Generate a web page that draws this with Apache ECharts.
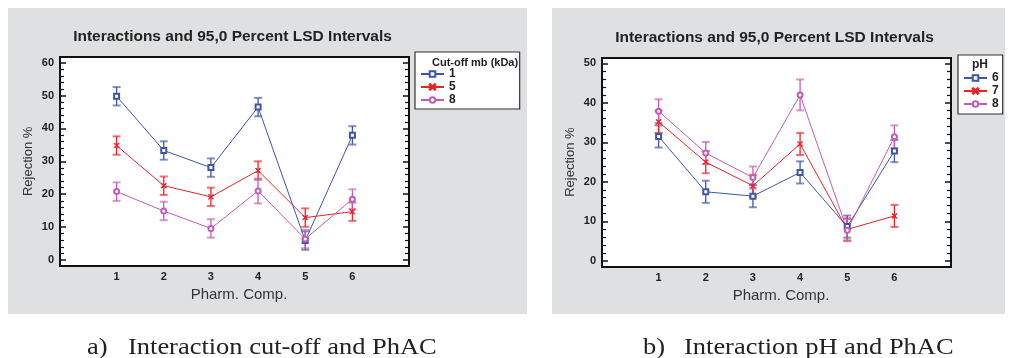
<!DOCTYPE html>
<html>
<head>
<meta charset="utf-8">
<script src="https://cdn.jsdelivr.net/npm/echarts@6/dist/echarts.min.js"></script>
<style>
  html, body { margin: 0; padding: 0; background: #fff; }
  #chart { width: 1010px; height: 358px; }
</style>
</head>
<body>
<div id="chart"></div>
<script>
// pharmaceutical compounds (x categories)
const comps = [1, 2, 3, 4, 5, 6]
const yMaxA = 60
const yMaxB = 50

// a) cut-off mb (kDa) 1 / 5 / 8
const cut1 = [49.8, 33.3, 28.1, 46.5, 5.9, 37.9]
const cut5 = [34.8, 22.6, 19.2, 27.2, 12.9, 14.7]
const cut8 = [20.8, 14.9, 9.6, 21.0, 6.4, 18.5]
const cut1Err = [2.8, 2.8, 2.8, 2.8, 2.8, 2.8]
const cut5Err = [2.8, 2.8, 2.8, 2.8, 2.8, 2.8]
const cut8Err = [2.8, 2.8, 2.8, 3.8, 2.8, 3.0]

// b) pH 6 / 7 / 8
const ph6 = [31.5, 17.5, 16.4, 22.4, 8.7, 27.8]
const ph7 = [35.2, 25.0, 19.0, 29.6, 8.0, 11.4]
const ph8 = [37.9, 27.3, 21.1, 42.0, 7.8, 31.4]
const ph6Err = [2.8, 2.8, 2.8, 2.8, 2.8, 2.8]
const ph7Err = [2.8, 2.8, 2.8, 2.8, 2.8, 2.8]
const ph8Err = [3.0, 2.8, 2.8, 3.9, 2.8, 2.9]

const BLUE = '#3d56a9'
const RED = '#ec2228'
const MAG = '#c45cb6'
const FONT = '"Liberation Sans", Arial, sans-serif'
const SERIF = '"Liberation Serif", "Times New Roman", serif'
const CROSS = 'path://M0,1L1,0L5,4L9,0L10,1L6,5L10,9L9,10L5,6L1,10L0,9L4,5Z'

// left axis with labels + mirrored right axis, major every 10, minor every 2
const yAxesFor = (gridIndex, max) => {
  const base = {
    type: 'value', gridIndex, min: 0, max, interval: 10,
    splitLine: { show: false }, axisLine: { show: false, onZero: false },
    axisTick: { show: true, inside: true, length: 6, lineStyle: { color: '#111', width: 1.5 } },
    minorTick: { show: true, splitNumber: 5, length: 4, lineStyle: { color: '#111', width: 1.2 } },
    minorSplitLine: { show: false }
  }
  return [
    {
      ...base, position: 'left',
      name: 'Rejection %', nameLocation: 'middle', nameGap: 25,
      nameTextStyle: { fontFamily: FONT, fontSize: 13, color: '#333' },
      axisLabel: { show: true, margin: 6, fontFamily: FONT, fontSize: 11, fontWeight: 'bold', color: '#222' }
    },
    { ...base, position: 'right', axisLabel: { show: false } }
  ]
}

const xAxisFor = (gridIndex) => ({
  type: 'value', gridIndex, min: -0.2, max: 7.2,
  name: 'Pharm. Comp.', nameLocation: 'middle', nameGap: 25,
  nameTextStyle: { fontFamily: FONT, fontSize: 15, color: '#333', padding: [0, 0, 0, 9] },
  axisLine: { show: false, onZero: false },
  axisTick: { show: false },
  splitLine: { show: false },
  axisLabel: { customValues: comps, margin: 11, fontFamily: FONT, fontSize: 11, fontWeight: 'bold', color: '#222' }
})

const lineSeries = (name, vals, color, symbol, size, xi, yi) => ({
  name, type: 'line', xAxisIndex: xi, yAxisIndex: yi,
  data: comps.map((c, i) => [c, vals[i]]),
  symbol, symbolSize: size, showSymbol: true,
  lineStyle: { color, width: 1 },
  itemStyle: { color, borderColor: color, borderWidth: 1 },
  z: 3
})

const errSeries = (vals, errs, color, xi, yi) => ({
  type: 'custom', xAxisIndex: xi, yAxisIndex: yi,
  data: comps.map((c, i) => [c, vals[i] - errs[i], vals[i] + errs[i]]),
  encode: { x: 0, y: [1, 2] },
  z: 2,
  renderItem: (params, api) => {
    const lo = api.coord([api.value(0), api.value(1)])
    const hi = api.coord([api.value(0), api.value(2)])
    const w = 4
    return {
      type: 'group',
      children: [
        { type: 'line', shape: { x1: lo[0], y1: lo[1], x2: hi[0], y2: hi[1] }, style: { stroke: color, lineWidth: 1.3 } },
        { type: 'line', shape: { x1: lo[0] - w, y1: lo[1], x2: lo[0] + w, y2: lo[1] }, style: { stroke: color, lineWidth: 2, opacity: 0.65 } },
        { type: 'line', shape: { x1: hi[0] - w, y1: hi[1], x2: hi[0] + w, y2: hi[1] }, style: { stroke: color, lineWidth: 2, opacity: 0.65 } }
      ]
    }
  }
})

const legendFor = (names, left, top, padding) => ({
  data: names, orient: 'vertical', left, top, padding,
  itemGap: 1, itemWidth: 23, itemHeight: 7,
  backgroundColor: '#fff', borderColor: '#333', borderWidth: 1.2, borderRadius: 0,
  selectedMode: false,
  formatter: (n) => n.slice(1),
  textStyle: { fontFamily: FONT, fontSize: 12, fontWeight: 'bold', color: '#222' }
})

const textEl = (text, x, y, style, extra) => ({
  type: 'text', x, y, z: 20,
  style: { text, fontFamily: FONT, fill: '#222', textVerticalAlign: 'middle', ...style },
  ...extra
})

const frame = (x, y, w, h) => ({
  type: 'rect', z: 1, shape: { x, y, width: w, height: h },
  style: { fill: 'none', stroke: '#111', lineWidth: 2 }
})

const chart = echarts.init(document.getElementById('chart'), null, { renderer: 'canvas' })

const option = {
  animation: false,
  backgroundColor: '#fff',
  grid: [
    { left: 60, top: 62.7, width: 349, height: 197.3 },
    { left: 602, top: 63.3, width: 349, height: 197.7 }
  ],
  xAxis: [xAxisFor(0), xAxisFor(1)],
  yAxis: [...yAxesFor(0, yMaxA), ...yAxesFor(1, yMaxB)],
  legend: [
    legendFor(['a1', 'a5', 'a8'], 415, 52, [16, 64, 3, 5]),
    legendFor(['b6', 'b7', 'b8'], 958, 55, [17, 4, 4, 5])
  ],
  graphic: [
    { type: 'rect', z: -10, shape: { x: 8, y: 8, width: 519, height: 306 }, style: { fill: '#dfe0e2' } },
    { type: 'rect', z: -10, shape: { x: 552, y: 8, width: 453, height: 306 }, style: { fill: '#dfe0e2' } },
    { type: 'rect', z: -9, shape: { x: 60, y: 57, width: 349, height: 209 }, style: { fill: '#fff' } },
    { type: 'rect', z: -9, shape: { x: 602, y: 58, width: 349, height: 209 }, style: { fill: '#fff' } },
    frame(60, 57, 349, 209),
    frame(602, 58, 349, 209),
    textEl('Interactions and 95,0 Percent LSD Intervals', 232.5, 37, { fontSize: 15.5, fontWeight: 'bold', textAlign: 'center' }),
    textEl('Interactions and 95,0 Percent LSD Intervals', 774.5, 38, { fontSize: 15.5, fontWeight: 'bold', textAlign: 'center' }),
    textEl('Cut-off mb (kDa)', 432, 63, { fontSize: 11, fontWeight: 'bold', textAlign: 'left' }),
    textEl('pH', 980, 65, { fontSize: 12, fontWeight: 'bold', textAlign: 'center' }),
    textEl('a)', 87, 348, { fontFamily: SERIF, fontSize: 23, textAlign: 'left' }, { scaleX: 1.15 }),
    textEl('Interaction cut-off and PhAC', 128, 348, { fontFamily: SERIF, fontSize: 23, textAlign: 'left' }, { scaleX: 1.15 }),
    textEl('b)', 643, 348, { fontFamily: SERIF, fontSize: 23, textAlign: 'left' }, { scaleX: 1.15 }),
    textEl('Interaction pH and PhAC', 684, 348, { fontFamily: SERIF, fontSize: 23, textAlign: 'left' }, { scaleX: 1.15 })
  ],
  series: [
    errSeries(cut1, cut1Err, BLUE, 0, 0),
    errSeries(cut5, cut5Err, RED, 0, 0),
    errSeries(cut8, cut8Err, MAG, 0, 0),
    lineSeries('a1', cut1, BLUE, 'emptyRect', 5, 0, 0),
    lineSeries('a5', cut5, RED, CROSS, 5, 0, 0),
    lineSeries('a8', cut8, MAG, 'emptyCircle', 5, 0, 0),
    errSeries(ph6, ph6Err, BLUE, 1, 2),
    errSeries(ph7, ph7Err, RED, 1, 2),
    errSeries(ph8, ph8Err, MAG, 1, 2),
    lineSeries('b6', ph6, BLUE, 'emptyRect', 5, 1, 2),
    lineSeries('b7', ph7, RED, CROSS, 5, 1, 2),
    lineSeries('b8', ph8, MAG, 'emptyCircle', 5, 1, 2)
  ]
}

chart.setOption(option)
</script>
</body>
</html>
